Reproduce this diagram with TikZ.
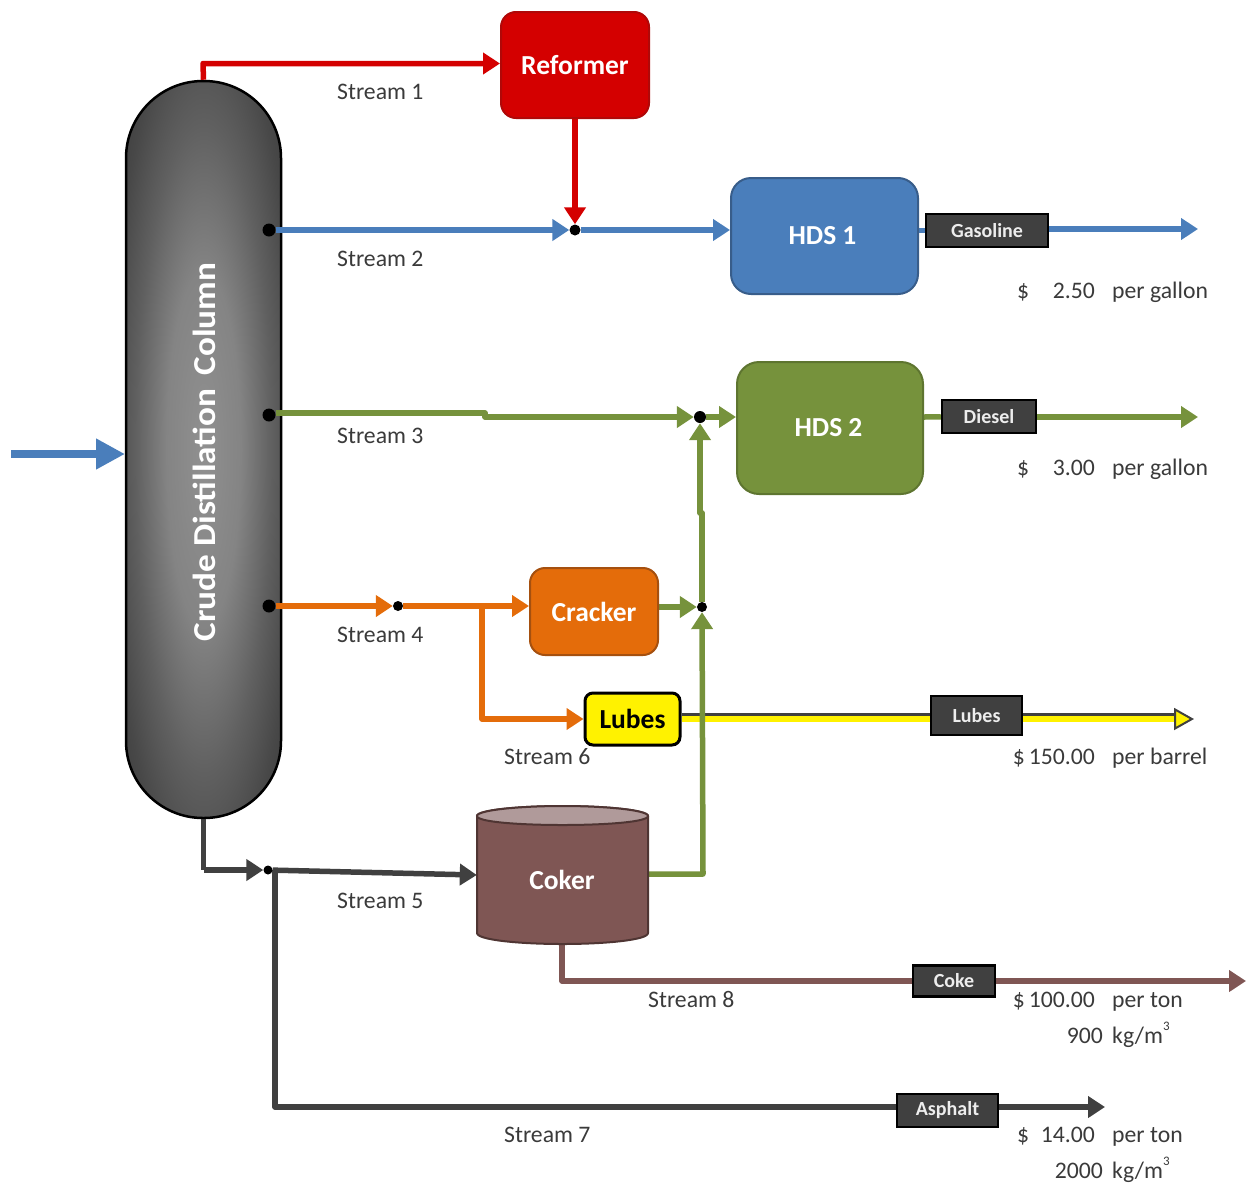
\documentclass[tikz,border=0pt]{standalone}
\usepackage{fontspec}
\setmainfont{Carlito}
\newfontfamily\colfont[FakeStretch=1.1]{Carlito}
\usetikzlibrary{arrows.meta,calc}
\definecolor{cRed}{HTML}{D40000}
\definecolor{cRedD}{HTML}{B00808}
\definecolor{cBlue}{HTML}{4A7EBB}
\definecolor{cBlueD}{HTML}{385D8A}
\definecolor{cGreen}{HTML}{76923C}
\definecolor{cGreenD}{HTML}{5E7530}
\definecolor{cOrange}{HTML}{E46C0A}
\definecolor{cOrangeD}{HTML}{A5500F}
\definecolor{cBrown}{HTML}{7F5654}
\definecolor{cBrownD}{HTML}{4F3533}
\definecolor{cBrownL}{HTML}{B09A9A}
\definecolor{cDark}{HTML}{404040}
\definecolor{cText}{HTML}{3A3A3A}
\definecolor{cLabel}{HTML}{EDEDED}
\definecolor{cS0}{HTML}{909090}
\definecolor{cS1}{HTML}{848484}
\definecolor{cS2}{HTML}{606060}
\definecolor{cS3}{HTML}{484848}
\definecolor{cS4}{HTML}{3C3C3C}
\pgfdeclareradialshading{colshade}{\pgfpoint{0bp}{0bp}}{color(0bp)=(cS0); color(12bp)=(cS1); color(22bp)=(cS2); color(30bp)=(cS3); color(36bp)=(cS4); color(100bp)=(cS4)}
\pgfdeclarelayer{back}
\pgfdeclarelayer{lines}
\pgfsetlayers{back,lines,main}
\tikzset{
  flow/.style={draw=#1,line width=5.5pt,line join=round,-{Triangle[length=17pt,width=21pt,fill=#1]}},
  plainflow/.style={draw=#1,line width=5.5pt,line join=round},
  unit/.style n args={4}{draw=#2,fill=#1,line width=2pt,rounded corners=#3,minimum width=#4,inner sep=0pt,text=white,font=\fontsize{27.5}{29}\selectfont\bfseries},
  tag/.style={draw=black,fill=cDark,line width=2.5pt,inner sep=0pt,text=cLabel,font=\fontsize{20}{22}\selectfont\bfseries},
  dot/.style={circle,fill=black,inner sep=0pt,minimum size=#1},
  note/.style={anchor=base west,inner sep=0pt,text=cText,font=\fontsize{23.7}{25}\selectfont},
  noter/.style={anchor=base east,inner sep=0pt,text=cText,font=\fontsize{23.7}{25}\selectfont},
}
\newcommand{\cubed}{\raisebox{1.15ex}{\fontsize{13}{13}\selectfont 3}}
\begin{document}
\begin{tikzpicture}[x=1pt,y=-1pt]
\useasboundingbox (0,0) rectangle (1249,1186);
% column
\begin{pgfonlayer}{back}
\node[draw=black,line width=2.5pt,shading=colshade,rounded corners=77pt,minimum width=155pt,minimum height=737pt,inner sep=0pt] (col) at (203.5,449.5) {};
\end{pgfonlayer}
\node[rotate=90,text=white,font=\colfont\fontsize{32}{34}\selectfont\bfseries,inner sep=0pt] (colname) at (204,452) {Crude Distillation\, Column};
% units
\node[unit={cRed}{cRedD}{15pt}{148pt},minimum height=106pt] (reformer) at (575,65) {Reformer};
\node[unit={cBlue}{cBlueD}{20pt}{187pt},minimum height=116pt] (hds1) at (824.5,236) {\hspace*{-4pt}HDS 1};
\node[unit={cGreen}{cGreenD}{22pt}{186pt},minimum height=132pt] (hds2) at (830,428) {\hspace*{-3pt}HDS 2};
\node[unit={cOrange}{cOrangeD}{15pt}{128pt},minimum height=87pt] (cracker) at (594,611.5) {Cracker};
\node[unit={yellow}{black}{8pt}{95pt},minimum height=52pt,line width=3pt,text=black] (lubes) at (632.5,719) {Lubes};
% coker
\fill[cBrown,draw=cBrownD,line width=2pt] (477,816) -- (477,933) .. controls (477,940) and (520,944) .. (562.5,944) .. controls (605,944) and (648,940) .. (648,933) -- (648,816) .. controls (648,810) and (605,806) .. (562.5,806) .. controls (520,806) and (477,810) .. (477,816) -- cycle;
\fill[cBrownL,draw=cBrownD,line width=2pt] (477,816) .. controls (477,810) and (520,806) .. (562.5,806) .. controls (605,806) and (648,810) .. (648,816) .. controls (648,822) and (605,825) .. (562.5,825) .. controls (520,825) and (477,822) .. (477,816) -- cycle;
\node[minimum width=171pt,minimum height=138pt,inner sep=0pt] (coker) at (562.5,875) {};
\node[inner sep=0pt,text=white,font=\fontsize{27.5}{29}\selectfont\bfseries] (cokername) at (562,880) {Coker};
% product tags
\node[tag,minimum width=122pt,minimum height=33pt] (gasoline) at (987,230.5) {Gasoline};
\node[tag,minimum width=94pt,minimum height=33pt] (diesel) at (989,416.5) {Diesel};
\node[tag,minimum width=91pt,minimum height=39pt] (lubestag) at (976.5,715.5) {Lubes};
\node[tag,minimum width=82pt,minimum height=31pt] (coke) at (954,981) {Coke};
\node[tag,minimum width=101pt,minimum height=33pt] (asphalt) at (947.5,1110.5) {Asphalt};
% junctions
\node[dot=13pt] (p2) at (269,230) {};
\node[dot=13pt] (p3) at (269,415) {};
\node[dot=13pt] (p4) at (269,606) {};
\node[dot=11pt] (j1) at (575,230) {};
\node[dot=12pt] (j2) at (700,417) {};
\node[dot=10pt] (j3) at (398,606) {};
\node[dot=10pt] (j4) at (702,607) {};
\node[dot=9pt] (j5) at (268,870) {};
% free ends and bends
\coordinate (feedstart) at (11,454);
\coordinate (feedend) at (125,454);
\coordinate (gasend) at (1198,229);
\coordinate (dieselend) at (1198,417);
\coordinate (lubesend) at (1194,719);
\coordinate (lubesedge) at (1176,717.5);
\coordinate (cokeend) at (1246,981);
\coordinate (asphend) at (1105,1107);
\coordinate (k1) at (203,63.5);
\coordinate (k3a) at (485,413);
\coordinate (k3b) at (485,417);
\coordinate (k4) at (482,606);
\coordinate (k5) at (275,870);
\coordinate (k6) at (275,1107);
\coordinate (k7) at (562,981);
\coordinate (k8) at (703,874);
\coordinate (k9a) at (702,513);
\coordinate (k9b) at (700,513);
\begin{pgfonlayer}{lines}
\draw[flow=cRed] (col.north) -- (k1) -- (reformer.west |- k1);
\draw[flow=cRed] (reformer.south) -- (j1);
\draw[flow=cBlue] (p2) -- (j1);
\draw[flow=cBlue] (j1) -- (hds1.west |- j1);
\draw[plainflow=cBlue] (hds1.east |- gasoline) -- (gasoline);
\draw[flow=cBlue] (gasoline.east |- gasend) -- (gasend);
\draw[flow=cGreen] (p3.east |- k3a) -- (k3a) -- (k3b) -- (j2);
\draw[flow=cGreen] (j2) -- (hds2.west |- j2);
\draw[plainflow=cGreen] (hds2.east |- dieselend) -- (diesel);
\draw[flow=cGreen] (diesel.east |- dieselend) -- (dieselend);
\draw[flow=cOrange] (p4) -- (j3);
\draw[flow=cOrange] (j3) -- (cracker.west |- j3);
\draw[flow=cOrange] (k4) -- (k4 |- lubes.west) -- (lubes.west);
% lubes outlet: dark edge on top of the yellow line
\draw[draw=cDark,line width=9pt] (lubes.east |- lubesedge) -- (lubesedge);
\draw[draw=yellow,line width=6pt,-{Triangle[length=20pt,width=22pt,line width=2pt,color=cDark,fill=yellow]}] (lubes.east |- lubesend) -- (lubesend);
\draw[flow=cGreen] (cracker.east |- j4) -- (j4);
\draw[flow=cGreen] (coker.east |- k8) -- (k8) -- (j4);
\draw[flow=cGreen] (j4) -- (k9a) -- (k9b) -- (j2);
\draw[plainflow=cDark] (col.south) -- (col.south |- j5);
\draw[flow=cDark] (col.south |- j5) -- (j5);
\draw[flow=cDark] (j5) -- (coker.west);
\draw[plainflow=cDark] (k5) -- (k6) -- (asphalt.west |- k6);
\draw[flow=cDark] (asphalt.east |- k6) -- (asphend);
\draw[plainflow=cBrown] (coker.south -| k7) -- (k7) -- (coke);
\draw[flow=cBrown] (coke.east |- cokeend) -- (cokeend);
\draw[draw=cBlue,line width=8.5pt,-{Triangle[length=29pt,width=29pt,fill=cBlue]}] (feedstart) -- (feedend);
\end{pgfonlayer}
% stream labels
\node[note] (s1) at (337,99) {Stream 1};
\node[note] (s2) at (337,266) {Stream 2};
\node[note] (s3) at (337,443) {Stream 3};
\node[note] (s4) at (337,642) {Stream 4};
\node[note] (s5) at (337,908) {Stream 5};
\node[note] (s6) at (504,764) {Stream 6};
\node[note] (s7) at (504,1142) {Stream 7};
\node[note] (s8) at (648,1007) {Stream 8};
% prices
\node[note] (d1) at (1017,298) {\$};
\node[noter] (v1) at (1095,298) {2.50};
\node[note] (u1) at (1112,298) {per gallon};
\node[note] (d2) at (1017,475) {\$};
\node[noter] (v2) at (1095,475) {3.00};
\node[note] (u2) at (1112,475) {per gallon};
\node[noter] (v3) at (1095,764) {\$\,150.00};
\node[note] (u3) at (1112,764) {per barrel};
\node[noter] (v4) at (1095,1007) {\$\,100.00};
\node[note] (u4) at (1112,1007) {per ton};
\node[noter] (w4) at (1103,1043) {900};
\node[note] (x4) at (1112,1043) {kg/m\cubed};
\node[note] (d5) at (1017,1142) {\$};
\node[noter] (v5) at (1095,1142) {14.00};
\node[note] (u5) at (1112,1142) {per ton};
\node[noter] (w5) at (1103,1178) {2000};
\node[note] (x5) at (1112,1178) {kg/m\cubed};
\end{tikzpicture}
\end{document}
